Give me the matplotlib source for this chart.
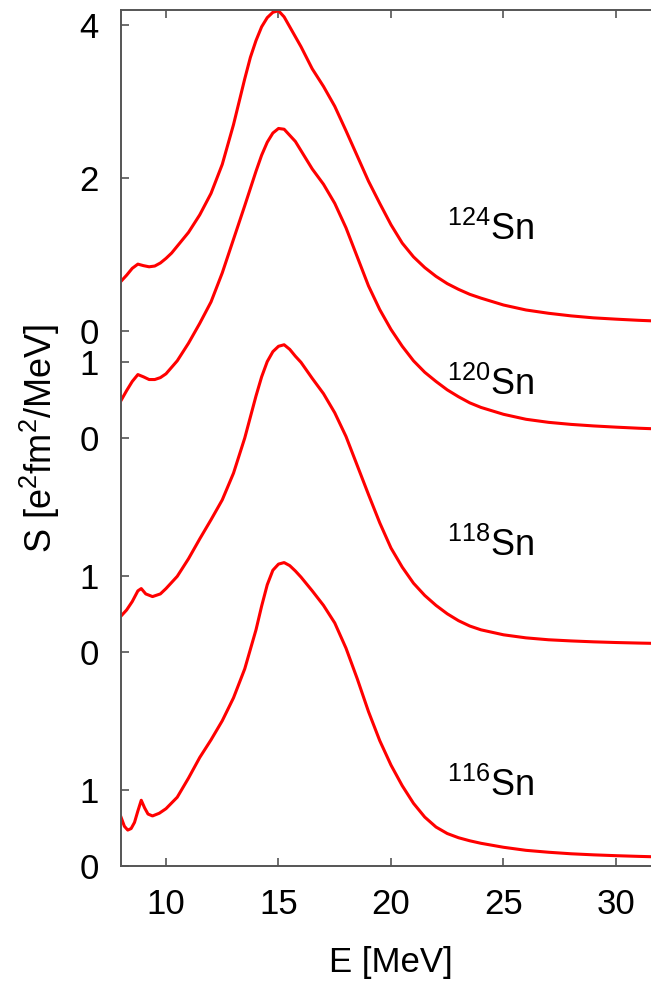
"""
Strength functions S(E) for the Sn isotopes, stacked with vertical offsets
"""

import matplotlib
matplotlib.use("Agg")
import matplotlib.pyplot as plt

plt.rcParams["font.family"] = ["Liberation Sans", "DejaVu Sans"]
plt.rcParams["mathtext.fontset"] = "custom"
plt.rcParams["mathtext.rm"] = "Liberation Sans"
plt.rcParams["mathtext.it"] = "Liberation Sans"

# energies [MeV] and strengths
E_124 = [8.0, 8.25, 8.5, 8.75, 9.0, 9.25, 9.5, 9.75, 10.0, 10.25, 10.5, 11.0,
         11.5, 12.0, 12.5, 13.0, 13.25, 13.5, 13.75, 14.0, 14.25, 14.5, 14.75,
         15.0, 15.25, 15.5, 15.75, 16.0, 16.5, 17.0, 17.5, 18.0, 18.5, 19.0,
         19.5, 20.0, 20.5, 21.0, 21.5, 22.0, 22.5, 23.0, 23.5, 24.0, 25.0, 26.0,
         27.0, 28.0, 29.0, 30.0, 31.0, 32.0]
S_124 = [0.65, 0.73, 0.82, 0.875, 0.855, 0.84, 0.85, 0.89, 0.95, 1.02, 1.11,
         1.29, 1.52, 1.8, 2.18, 2.7, 3.0, 3.3, 3.58, 3.8, 3.98, 4.1, 4.17, 4.19,
         4.11, 3.98, 3.85, 3.72, 3.43, 3.2, 2.94, 2.62, 2.29, 1.96, 1.67, 1.39,
         1.15, 0.97, 0.83, 0.715, 0.62, 0.545, 0.48, 0.43, 0.34, 0.275, 0.232,
         0.198, 0.172, 0.155, 0.14, 0.128]

E_120 = [8.0, 8.25, 8.5, 8.75, 9.0, 9.25, 9.5, 9.75, 10.0, 10.5, 11.0, 11.5,
         12.0, 12.5, 13.0, 13.5, 14.0, 14.25, 14.5, 14.75, 15.0, 15.25, 15.5,
         15.75, 16.0, 16.5, 17.0, 17.5, 18.0, 18.5, 19.0, 19.5, 20.0, 20.5, 21.0,
         21.5, 22.0, 22.5, 23.0, 23.5, 24.0, 25.0, 26.0, 27.0, 28.0, 29.0, 30.0,
         31.0, 32.0]
S_120 = [0.49, 0.62, 0.74, 0.83, 0.8, 0.765, 0.765, 0.79, 0.84, 1.01, 1.24,
         1.5, 1.78, 2.16, 2.6, 3.04, 3.49, 3.7, 3.87, 3.99, 4.05, 4.04, 3.96,
         3.88, 3.76, 3.52, 3.32, 3.07, 2.75, 2.37, 1.99, 1.68, 1.42, 1.2, 1.01,
         0.86, 0.74, 0.63, 0.54, 0.46, 0.4, 0.31, 0.245, 0.205, 0.178, 0.158,
         0.142, 0.128, 0.117]

E_118 = [8.0, 8.25, 8.5, 8.75, 8.9, 9.1, 9.4, 9.75, 10.0, 10.5, 11.0, 11.5,
         12.0, 12.5, 13.0, 13.5, 14.0, 14.25, 14.5, 14.75, 15.0, 15.25, 15.5,
         15.75, 16.0, 16.5, 17.0, 17.5, 18.0, 18.5, 19.0, 19.5, 20.0, 20.5, 21.0,
         21.5, 22.0, 22.5, 23.0, 23.5, 24.0, 25.0, 26.0, 27.0, 28.0, 29.0, 30.0,
         31.0, 32.0]
S_118 = [0.47, 0.55, 0.66, 0.8, 0.83, 0.76, 0.725, 0.76, 0.83, 0.99, 1.22,
         1.48, 1.73, 1.99, 2.34, 2.8, 3.35, 3.6, 3.8, 3.93, 4.0, 4.02, 3.96,
         3.87, 3.79, 3.58, 3.38, 3.13, 2.82, 2.44, 2.06, 1.69, 1.36, 1.11, 0.9,
         0.74, 0.61, 0.5, 0.41, 0.34, 0.29, 0.225, 0.185, 0.16, 0.145, 0.133,
         0.124, 0.117, 0.111]

E_116 = [8.0, 8.15, 8.3, 8.45, 8.6, 8.75, 8.9, 9.05, 9.2, 9.4, 9.7, 10.0, 10.5,
         11.0, 11.5, 12.0, 12.5, 13.0, 13.5, 14.0, 14.25, 14.5, 14.75, 15.0,
         15.25, 15.5, 15.75, 16.0, 16.5, 17.0, 17.5, 18.0, 18.5, 19.0, 19.5,
         20.0, 20.5, 21.0, 21.5, 22.0, 22.5, 23.0, 23.5, 24.0, 25.0, 26.0, 27.0,
         28.0, 29.0, 30.0, 31.0, 32.0]
S_116 = [0.64, 0.52, 0.47, 0.49, 0.57, 0.72, 0.86, 0.76, 0.68, 0.655, 0.69,
         0.75, 0.9, 1.15, 1.42, 1.65, 1.9, 2.2, 2.58, 3.09, 3.4, 3.68, 3.87,
         3.95, 3.97, 3.93, 3.86, 3.78, 3.6, 3.41, 3.18, 2.85, 2.45, 2.02, 1.64,
         1.32, 1.05, 0.82, 0.64, 0.51, 0.425, 0.37, 0.33, 0.297, 0.245, 0.205,
         0.18, 0.16, 0.146, 0.135, 0.126, 0.118]

# vertical offset of each curve and the baseline of its label
offsets = [7.0, 5.6, 2.8, 0.0]
labels = ["124", "120", "118", "116"]
label_y = [8.19, 6.16, 4.05, 0.91]

# y tick positions (in offset units) and what they read
ytick_pos = [0, 1, 2.8, 3.8, 5.6, 6.6, 7.0, 9.0, 11.0]
ytick_lab = ["0", "1", "0", "1", "0", "1", "0", "2", "4"]

fig = plt.figure(figsize=(6.51, 9.81), dpi=100)
ax = fig.add_axes([121 / 651, 1 - 866 / 981, 540 / 651, 856 / 981])

for E, S, off in zip([E_124, E_120, E_118, E_116],
                     [S_124, S_120, S_118, S_116], offsets):
    ax.plot(E, [s + off for s in S], color="#ff0000", lw=2.2,
            solid_joinstyle="round")

for lab, y in zip(labels, label_y):
    ax.text(22.5, y, r"$^{%s}\mathrm{Sn}$" % lab, fontsize=26,
            va="baseline", ha="left")

ax.set_xlim(8, 32)
ax.set_ylim(0, 11.2)
ax.set_xticks([10, 15, 20, 25, 30])
ax.set_yticks(ytick_pos)
ax.set_yticklabels(ytick_lab)

# gnuplot-like frame: inward ticks mirrored on top
ax.tick_params(direction="in", length=6, width=1.2, colors="#555555",
               labelcolor="black", labelsize=25, top=True, right=False)
ax.tick_params(axis="x", pad=16)
ax.tick_params(axis="y", pad=16)
for sp in ax.spines.values():
    sp.set_color("#555555")
    sp.set_linewidth(1.4)

ax.set_xlabel("E [MeV]", fontsize=25)
ax.set_ylabel(r"S [e$^2$fm$^2$/MeV]", fontsize=26)
ax.xaxis.set_label_coords(0.5, -0.093)
ax.yaxis.set_label_coords(-0.109, 0.5)

plt.savefig("out.png", dpi=100)
